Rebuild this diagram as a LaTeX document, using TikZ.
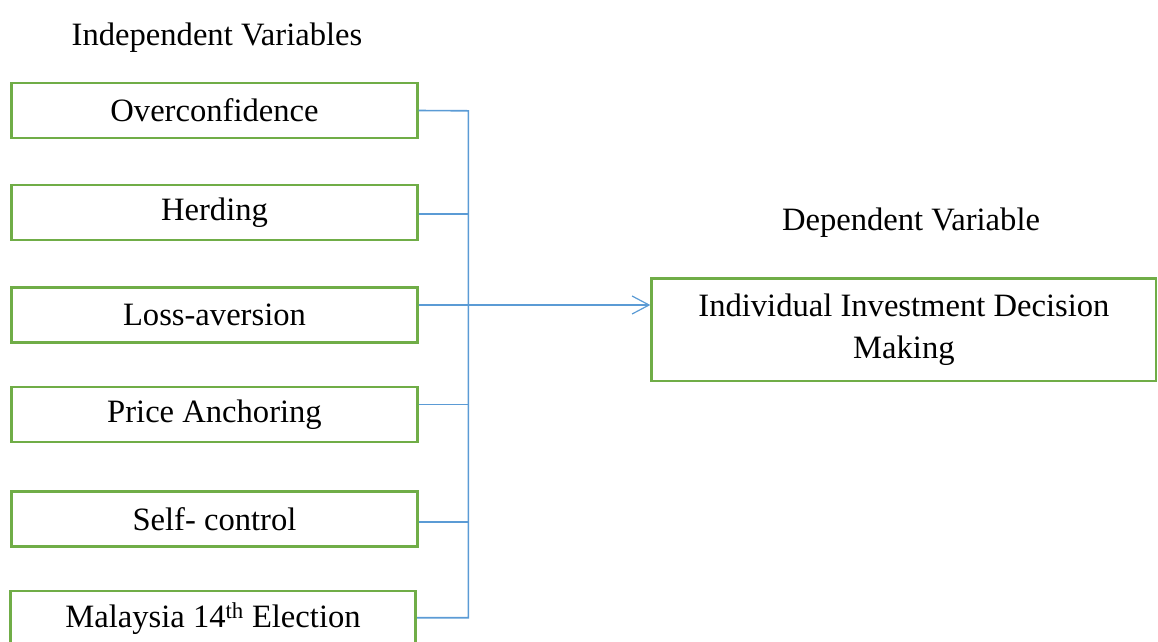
\documentclass[tikz,border=0pt]{standalone}
\usepackage{fontspec}
\setmainfont{Liberation Serif}
\usetikzlibrary{arrows.meta,calc}
\definecolor{boxgreen}{HTML}{70AD47}
\definecolor{linkblue}{HTML}{5B9BD5}
\begin{document}
\begin{tikzpicture}[x=1pt,y=-1pt,
  bodyfont/.style={font=\fontsize{32.6}{42}\selectfont},
  varbox/.style={bodyfont, draw=boxgreen, line width=2.8pt, minimum width=405.5pt,
    minimum height=55pt, inner sep=0pt},
  link/.style={draw=linkblue, line width=1.6pt},
  tip/.style={-{Straight Barb[length=17pt,width=18pt,line width=1.2pt]}}]
\useasboundingbox (0,0) rectangle (1158,641);
\clip (0,0) rectangle (1158,641);

% headings
\node[bodyfont, anchor=base] (hind) at (217,45) {Independent Variables};
\node[bodyfont, anchor=base] (hdep) at (911,230) {Dependent Variable};

% independent variables
\node[varbox] (b1) at (214.5,110.5) {Overconfidence};
\node[varbox] (b2) at (214.5,212.5) {Herding};
\node[varbox] (b3) at (214.5,315) {Loss-aversion};
\node[varbox] (b4) at (214.5,414.5) {Price Anchoring};
\node[varbox] (b5) at (214.5,519) {Self- control};
\node[varbox] (b6) at (213,618.5) {Malaysia 14\textsuperscript{th} Election};

% dependent variable
\node[varbox, minimum width=504.3pt, minimum height=102.7pt, align=center]
  (dv) at (903.9,329.7) {Individual Investment Decision\\Making};

% collecting bus
\coordinate (jt) at (468.3,110.8);
\coordinate (jb) at (468.3,617.7);
\draw[link] (b1.east) -- (jt) -- (jb) -- (jb -| b6.east);

\coordinate (c2) at ($(b2.east)+(0,1.2)$);
\coordinate (c4) at ($(b4.east)+(0,-10.2)$);
\coordinate (c5) at ($(b5.east)+(0,2.7)$);
\draw[link] (c2) -- (c2 -| jt);
\draw[link] (c4) -- (c4 -| jt);
\draw[link] (c5) -- (c5 -| jt);

% main arrow
\coordinate (c3) at ($(b3.east)+(0,-10)$);
\draw[link, tip] (c3) -- (c3 -| dv.west);
\end{tikzpicture}
\end{document}
